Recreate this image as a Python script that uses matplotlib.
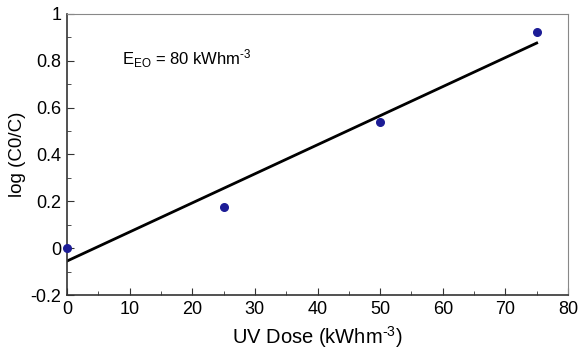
import matplotlib
matplotlib.use("Agg")
import matplotlib.pyplot as plt
from matplotlib.ticker import MultipleLocator

plt.rcParams['font.family'] = ['Liberation Sans', 'DejaVu Sans']
plt.rcParams['mathtext.fontset'] = 'custom'
plt.rcParams['mathtext.rm'] = 'Liberation Sans'
plt.rcParams['mathtext.it'] = 'Liberation Sans:italic'
plt.rcParams['mathtext.bf'] = 'Liberation Sans:bold'

uv_dose = [0, 25, 50, 75]
log_ratio = [0.0, 0.175, 0.54, 0.922]
fit_x = [0, 75]
fit_y = [-0.055, 0.876]
yticks = [-0.2, 0, 0.2, 0.4, 0.6, 0.8, 1]
ytick_labels = ['-0.2', '0', '0.2', '0.4', '0.6', '0.8', '1']

fig = plt.figure(figsize=(5.78, 3.53), dpi=100)
ax = fig.add_axes([67/578, 1-295/353, (568-67)/578, (295-14)/353])

ax.plot(fit_x, fit_y, color='black', lw=2, zorder=2)
ax.scatter(uv_dose, log_ratio, s=30, color='#1c1c96', zorder=3, clip_on=False)

ax.set_xlim(0, 80)
ax.set_ylim(-0.2, 1)
ax.xaxis.set_major_locator(MultipleLocator(10))
ax.xaxis.set_minor_locator(MultipleLocator(5))
ax.set_yticks(yticks)
ax.set_yticklabels(ytick_labels)
ax.yaxis.set_minor_locator(MultipleLocator(0.1))
ax.tick_params(which='both', direction='in', top=False, right=False, labelsize=13, color='#333333')
ax.tick_params(which='major', length=5, pad=4)
ax.tick_params(which='minor', length=3)
for s in ['top', 'right']:
    ax.spines[s].set_color('#888888')
for s in ['left', 'bottom']:
    ax.spines[s].set_color('#333333')
    ax.spines[s].set_linewidth(1.2)

ax.set_xlabel('UV Dose (kWhm$^{\\text{-3}}$)', fontsize=14.5, labelpad=5)
ax.set_ylabel('log (C0/C)', fontsize=13.5, labelpad=3)
ax.text(8.8, 0.785, 'E$_{\\text{EO}}$ = 80 kWhm$^{\\text{-3}}$', fontsize=12)

fig.savefig('out.png', dpi=100)
